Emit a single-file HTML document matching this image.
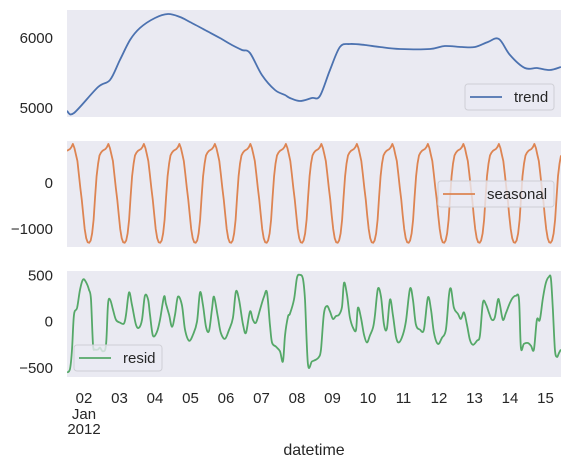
<!DOCTYPE html>
<html><head><meta charset="utf-8"><style>
body{margin:0;background:#fff;}
svg{display:block;font-family:"Liberation Sans",sans-serif;}
text{fill:#262626;font-size:15px;}
</style></head><body>
<svg id="chart" width="572" height="466" xmlns="http://www.w3.org/2000/svg"></svg>
<script>
const trendHours=[0,4.7,21,29.1,35.8,42.6,49.3,59.5,68.3,76.4,83.1,93.3,103.4,111.5,118.3,123.7,131.8,140.6,147.4,150.7,157.5,165.6,171,177.8,184.5,191.3,201.4,211.6,225.1,245.4,255.5,267,275.8,284.6,292,299.5,309.6,317.7,326.5,333.9];
const trendValues=[4957,4929,5300,5400,5686,5971,6143,6286,6343,6300,6229,6114,6000,5900,5829,5786,5471,5257,5186,5143,5100,5143,5171,5543,5871,5914,5900,5871,5843,5843,5886,5871,5871,5943,5986,5757,5571,5571,5543,5586];
const seasonalPattern=[850,760,620,480,200,-100,-370,-700,-1000,-1200,-1290,-1300,-1250,-1100,-800,-300,150,420,600,660,700,720,740,780];
const seasonalPhase=20;
const totalHours=334;
const residHours=[0,2,3.4,4.7,6.8,8.8,10.8,12.8,14.9,16.2,17.6,18.9,21,22.3,24.3,26.4,27.7,29.1,31.1,33.1,35.8,38.5,39.9,41.9,43.9,46.6,48.7,50.7,52.7,54.8,56.1,58.1,60.8,62.9,65.6,66.9,69,71,73,75,77.7,79.8,82.5,85.2,87.9,89.9,91.9,94,96,98,99.4,102,104,106.8,109.5,112.2,114.2,116.3,119,121,123.7,125.7,127.8,130.5,133.2,135.2,137.2,138.6,141.3,144,146,147.4,149.4,150.7,153.5,155.5,157.5,159.5,160.9,162.9,165.6,168.3,170.4,171.7,173.7,175.8,177.8,179.8,181.8,183.9,185.9,187.3,189.3,191.3,193.4,195.4,196.7,198.8,200.8,202.8,204.8,206.9,208.2,210.2,212.3,214.3,216.3,218.4,220.4,222.4,224.4,227.1,229.2,231.9,233.9,235.9,238.6,241.3,244,246.1,248.1,250.8,253.5,256.2,258.2,259.6,261.6,264.3,266.3,268.4,270.4,272.4,274.5,277.2,279.2,281.2,283.3,285.3,287.3,289.3,291.4,292.7,294.7,296.8,299.5,301.5,303.5,305.6,306.9,308.9,311.6,313.7,315.7,317.7,319.7,321.8,323.8,325.8,327.2,328.5,329.9,331.2,332.6,333.9];
const residValues=[-550,-510,-300,75,150,345,455,430,345,240,-250,-300,-300,-280,-320,-250,185,240,130,20,-10,-20,75,315,185,-30,-65,20,280,240,75,-150,-110,20,270,195,75,-55,75,270,180,-85,-205,-140,0,315,185,-55,-100,130,270,50,-120,-185,-90,40,325,240,-30,-120,110,20,-10,130,270,315,-30,-225,-270,-320,-430,-150,55,85,240,475,505,465,240,-455,-430,-410,-380,-300,85,170,110,30,60,75,160,420,290,45,-65,-90,150,40,-140,-225,-150,-65,65,355,270,-30,-75,240,65,-160,-225,-140,10,355,240,-30,-85,-85,260,130,-120,-240,-175,-85,280,355,150,85,30,100,-30,-195,-250,-205,-150,205,185,95,20,50,240,185,20,95,205,260,280,240,-280,-240,-230,-260,-300,20,20,260,420,485,465,130,-300,-380,-340,-300];
const dayLabels=["02","03","04","05","06","07","08","09","10","11","12","13","14","15"];
const firstMidnightHour=11.5;
const trendTicks=[5000,6000], seasonalTicks=[-1000,0], residTicks=[-500,0,500];

const svg=document.getElementById('chart');
const NS='http://www.w3.org/2000/svg';
function mk(tag,attrs,parent){const e=document.createElementNS(NS,tag);for(const k in attrs)e.setAttribute(k,attrs[k]);(parent||svg).appendChild(e);return e;}
const L=67,R=561;
const xS=h=>L+h/totalHours*(R-L);
const panels=[
 {name:'trend',top:10,bot:117,y:v=>38+(6000-v)*0.07,color:'#4C72B0',ticks:trendTicks},
 {name:'seasonal',top:141,bot:247,y:v=>183-v*0.046,color:'#DD8452',ticks:seasonalTicks},
 {name:'resid',top:271,bot:377,y:v=>321.7-v*0.0926,color:'#55A868',ticks:residTicks}
];
panels.forEach(p=>{
 const bg=mk('rect',{x:L,y:p.top,width:R-L,height:p.bot-p.top,fill:'#EAEAF2'});
 
 
 p.ticks.forEach(t=>{
  const tx=mk('text',{x:53,y:p.y(t)+5,'text-anchor':'end'});
  tx.textContent=(t<0?'\u2212'+Math.abs(t):String(t));
  
  
 });
});
const clip=mk('clipPath',{id:'c'});mk('rect',{x:L,y:0,width:R-L,height:466},clip);
function smoothPath(pts){
 let d='M'+pts[0][0].toFixed(1)+','+pts[0][1].toFixed(1);
 for(let i=0;i<pts.length-1;i++){
  const p0=pts[Math.max(0,i-1)],p1=pts[i],p2=pts[i+1],p3=pts[Math.min(pts.length-1,i+2)];
  const c1=[p1[0]+(p2[0]-p0[0])/6,p1[1]+(p2[1]-p0[1])/6];
  const c2=[p2[0]-(p3[0]-p1[0])/6,p2[1]-(p3[1]-p1[1])/6];
  d+=' C'+c1[0].toFixed(1)+','+c1[1].toFixed(1)+' '+c2[0].toFixed(1)+','+c2[1].toFixed(1)+' '+p2[0].toFixed(1)+','+p2[1].toFixed(1);
 }
 return d;
}
function line(pts,color,name,smooth){
 const pl=mk('path',{d:smooth?smoothPath(pts):'M'+pts.map(p=>p[0].toFixed(1)+','+p[1].toFixed(1)).join(' L'),fill:'none',stroke:color,'stroke-width':1.8,'stroke-linejoin':'round','clip-path':'url(#c)'});
 
 
}
line(trendHours.map((h,i)=>[xS(h),panels[0].y(trendValues[i])]),panels[0].color,'trend-line',true);
const sp=[];for(let h=0;h<=totalHours;h++)sp.push([xS(h),panels[1].y(seasonalPattern[(h+seasonalPhase)%24])]);
line(sp,panels[1].color,'seasonal-line',false);
line(residHours.map((h,i)=>[xS(h),panels[2].y(residValues[i])]),panels[2].color,'resid-line',true);

dayLabels.forEach((d,i)=>{
 const t=mk('text',{x:xS(firstMidnightHour+24*i),y:403,'text-anchor':'middle'});t.textContent=d;
 
 
});
const xm=xS(firstMidnightHour);
const j=mk('text',{x:xm,y:419,'text-anchor':'middle'});j.textContent='Jan';


const yr=mk('text',{x:xm,y:434,'text-anchor':'middle'});yr.textContent='2012';


const xt=mk('text',{x:314,y:455,'text-anchor':'middle','font-size':16,style:'font-size:16px'});xt.textContent='datetime';



function legend(x,y,w,label,color,name){
 const g=mk('g',{});
 
 
 mk('rect',{x:x,y:y,width:w,height:26,rx:3,fill:'#EAEAF2','fill-opacity':0.8,stroke:'#cfcfd6'},g);
 mk('line',{x1:x+5,x2:x+37,y1:y+13,y2:y+13,stroke:color,'stroke-width':1.8},g);
 const t=mk('text',{x:x+49,y:y+18},g);t.textContent=label;
}
legend(465,84,89,'trend','#4C72B0','trend-legend');
legend(438,181,116,'seasonal','#DD8452','seasonal-legend');
legend(74,345,88,'resid','#55A868','resid-legend');
</script>
</body></html>
